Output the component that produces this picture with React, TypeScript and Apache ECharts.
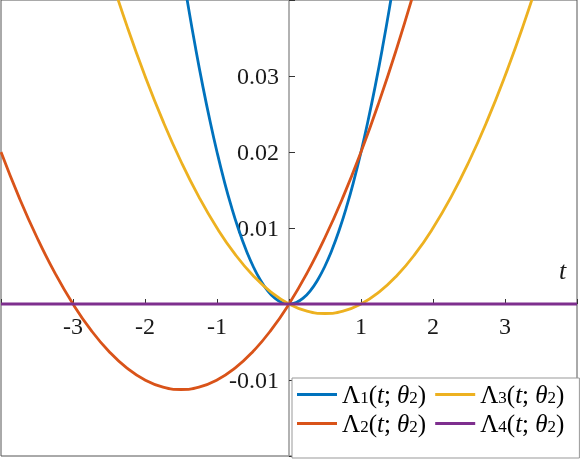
import React, { useEffect, useRef } from "react";
import * as echarts from "echarts";

// ---- data ----
const tBlue = [-1.6, -1.5, -1.4, -1.3, -1.2, -1.1, -1.0, -0.9, -0.8, -0.7, -0.6, -0.5, -0.4, -0.3, -0.2, -0.1, 0,
  0.1, 0.2, 0.3, 0.4, 0.5, 0.6, 0.7, 0.8, 0.9, 1.0, 1.1, 1.2, 1.3, 1.4, 1.5, 1.6];
const lambda1 = [0.0512, 0.045, 0.0392, 0.0338, 0.0288, 0.0242, 0.02, 0.0162, 0.0128, 0.0098, 0.0072, 0.005, 0.0032, 0.0018, 0.0008, 0.0002, 0,
  0.0002, 0.0008, 0.0018, 0.0032, 0.005, 0.0072, 0.0098, 0.0128, 0.0162, 0.02, 0.0242, 0.0288, 0.0338, 0.0392, 0.045, 0.0512];

const tRed = [-4, -3.75, -3.5, -3.25, -3, -2.75, -2.5, -2.25, -2, -1.75, -1.5, -1.25, -1, -0.75, -0.5, -0.25, 0,
  0.25, 0.5, 0.75, 1, 1.25, 1.5, 1.75, 2];
const lambda2 = [0.02, 0.01406, 0.00875, 0.00406, 0, -0.00344, -0.00625, -0.00844, -0.01, -0.01094, -0.01125, -0.01094, -0.01, -0.00844, -0.00625, -0.00344, 0,
  0.00406, 0.00875, 0.01406, 0.02, 0.02656, 0.03375, 0.04156, 0.05];

const tYellow = [-2.75, -2.5, -2.25, -2, -1.75, -1.5, -1.25, -1, -0.75, -0.5, -0.25, 0, 0.25, 0.5, 0.75, 1,
  1.25, 1.5, 1.75, 2, 2.25, 2.5, 2.75, 3, 3.25, 3.5, 3.75];
const lambda3 = [0.05156, 0.04375, 0.03656, 0.03, 0.02406, 0.01875, 0.01406, 0.01, 0.00656, 0.00375, 0.00156, 0, -0.00094, -0.00125, -0.00094, 0,
  0.00156, 0.00375, 0.00656, 0.01, 0.01406, 0.01875, 0.02406, 0.03, 0.03656, 0.04375, 0.05156];

const tPurple = [-4, 4];
const lambda4 = [0, 0];

const xTickLabels = ["-3", "-2", "-1", "1", "2", "3"];
const yTickLabels = ["-0.01", "0.01", "0.02", "0.03"];

const names = ["Λ1(t;θ2)", "Λ2(t;θ2)", "Λ3(t;θ2)", "Λ4(t;θ2)"];
const colors = ["#0072BD", "#D95319", "#EDB120", "#7E2F8E"];

const FONT = "'Liberation Serif', 'DejaVu Serif', serif";

const X_MIN = -4, X_MAX = 4, Y_MIN = -0.02, Y_MAX = 0.04;
const GRID = { left: 1, top: 0, width: 576, height: 456 };
// axes cross at the origin: shift them by the origin's place inside the grid
const xAxisOffset = -GRID.height * (0 - Y_MIN) / (Y_MAX - Y_MIN);
const yAxisOffset = -GRID.width * (0 - X_MIN) / (X_MAX - X_MIN);

const zip = (xs: number[], ys: number[]) => xs.map((x, i) => [x, ys[i]]);

export default function App() {
  const ref = useRef<HTMLDivElement>(null);
  useEffect(() => {
    if (!ref.current) return;
    const chart = echarts.init(ref.current, undefined, { renderer: "svg" });
    const series = [
      zip(tBlue, lambda1),
      zip(tRed, lambda2),
      zip(tYellow, lambda3),
      zip(tPurple, lambda4),
    ].map((d, i) => ({
      type: "line",
      name: names[i],
      data: d,
      smooth: true,
      symbol: "none",
      clip: true,
      lineStyle: { color: colors[i], width: 2.8 },
      itemStyle: { color: colors[i] },
      z: 2 + i,
    }));
    chart.setOption({
      animation: false,
      grid: { ...GRID, outerBoundsMode: "none", containLabel: false, show: true, borderColor: "#555", borderWidth: 1, backgroundColor: "#fff" },
      xAxis: {
        type: "value",
        min: X_MIN,
        max: X_MAX,
        interval: 1,
        position: "bottom",
        offset: xAxisOffset,
        axisLine: { onZero: false, lineStyle: { color: "#999", width: 1.5 } },
        axisTick: { inside: true, length: 5, lineStyle: { color: "#333" } },
        splitLine: { show: false },
        axisLabel: {
          margin: 10,
          fontFamily: FONT,
          fontSize: 24,
          color: "#1a1a1a",
          formatter: (v: number) => {
            const s = String(Math.round(v));
            return xTickLabels.includes(s) ? s : "";
          },
        },
      },
      yAxis: {
        type: "value",
        min: Y_MIN,
        max: Y_MAX,
        interval: 0.01,
        position: "left",
        offset: yAxisOffset,
        axisLine: { onZero: false, lineStyle: { color: "#999", width: 1.5 } },
        axisTick: { inside: true, length: 6, lineStyle: { color: "#333" } },
        splitLine: { show: false },
        axisLabel: {
          margin: 10,
          fontFamily: FONT,
          fontSize: 24,
          color: "#1a1a1a",
          formatter: (v: number) => {
            const s = (Math.round(v * 100) / 100).toFixed(2);
            return yTickLabels.includes(s) ? s : "";
          },
        },
      },
      legend: {
        left: 292,
        top: 378,
        width: 284,
        orient: "horizontal",
        data: [names[0], names[2], names[1], names[3]],
        icon: "rect",
        itemWidth: 40,
        itemHeight: 3,
        itemGap: 4,
        padding: [4, 10, 22, 5],
        backgroundColor: "#fff",
        borderColor: "#999",
        borderWidth: 1,
        borderRadius: 0,
        formatter: (name: string) => {
          const k = name.charAt(1);
          return `{n|Λ}{s|${k}}{n|(}{i|t}{n|; }{i|θ}{s|2}{n|)}{g|}`;
        },
        textStyle: {
          fontFamily: FONT,
          fontSize: 25,
          color: "#000",
          rich: {
            n: { fontFamily: FONT, fontSize: 25, lineHeight: 22, verticalAlign: "middle", color: "#000" },
            i: { fontFamily: FONT, fontSize: 25, fontStyle: "italic", lineHeight: 22, verticalAlign: "middle", color: "#000" },
            s: { fontFamily: FONT, fontSize: 17, lineHeight: 10, verticalAlign: "bottom", color: "#000" },
            g: { width: 5, lineHeight: 10 },
          },
        },
      },
      graphic: [
        {
          type: "text",
          left: 559,
          top: 257,
          style: { text: "t", font: `italic 26px ${FONT}`, fill: "#1a1a1a" },
        },
      ],
      series,
    });
    return () => chart.dispose();
  }, []);
  return <div ref={ref} style={{ position: "fixed", left: 0, top: 0, width: 581, height: 459 }} />;
}
